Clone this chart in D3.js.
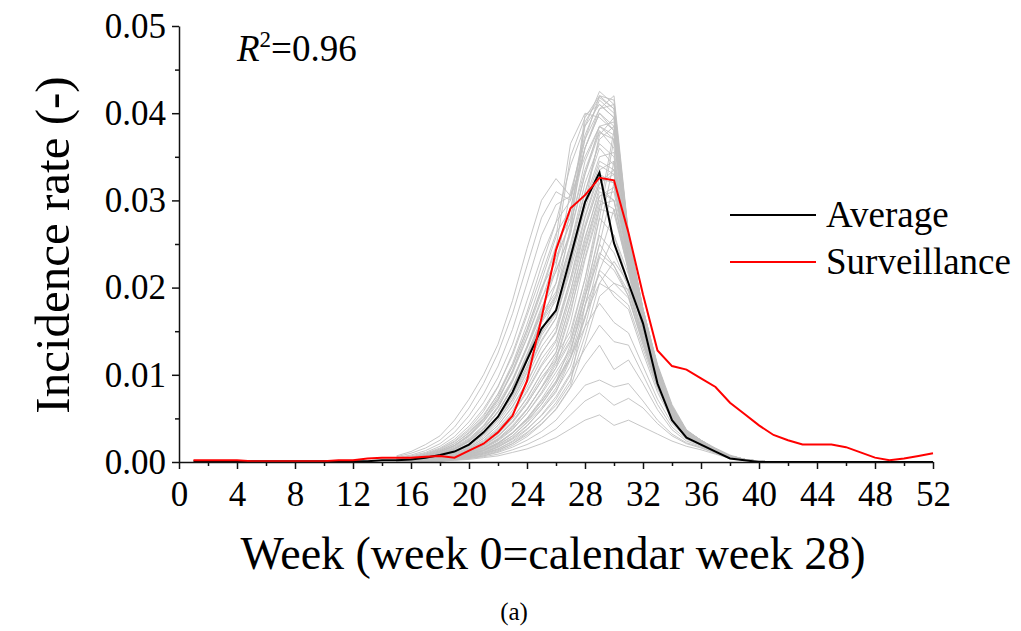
<!DOCTYPE html>
<html>
<head>
<meta charset="utf-8">
<script src="https://cdn.jsdelivr.net/npm/d3@7"></script>
<style>
  body { margin: 0; background: #fff; }
  svg text { font-family: "Liberation Serif", "Times New Roman", serif; fill: #000; }
</style>
</head>
<body>
<div id="chart"></div>
<script>

// weeks 1..52 for the two main curves
var weeks = d3.range(1, 53);

var average = [0.0001, 0.0001, 0.0001, 0.0001, 0.0001, 0.0001, 0.0001, 0.0001, 0.0001, 0.0001,
  0.0001, 0.0001, 0.0001, 0.0002, 0.0002, 0.0003, 0.0005, 0.0008, 0.0012, 0.0020,
  0.0034, 0.0052, 0.0080, 0.0117, 0.0153, 0.0174, 0.0235, 0.0298, 0.0332, 0.0251,
  0.0205, 0.0159, 0.0090, 0.0048, 0.0028, 0.0020, 0.0012, 0.0004, 0.0002, 0.0000,
  0, 0, 0, 0, 0, 0, 0, 0, 0, 0, 0, 0];

var surveillance = [0.0002, 0.0002, 0.0002, 0.0002, 0.0001, 0.0001, 0.0001, 0.0001, 0.0001, 0.0001,
  0.0002, 0.0002, 0.0004, 0.0005, 0.0005, 0.0005, 0.0006, 0.0007, 0.0005, 0.0013,
  0.0021, 0.0034, 0.0053, 0.0093, 0.0165, 0.0243, 0.0291, 0.0306, 0.0326, 0.0323,
  0.0263, 0.0192, 0.0128, 0.0110, 0.0106, 0.0096, 0.0086, 0.0068, 0.0055, 0.0042,
  0.0031, 0.0025, 0.0020, 0.0020, 0.0020, 0.0017, 0.0011, 0.0005, 0.0002, 0.0004,
  0.0007, 0.0010];

// simulation runs (grey), weeks 15..41, incidence in units of 1e-4
var runWeeks = d3.range(15, 42);
var runs = [
  [7,12,20,30,48,72,100,135,185,245,300,325,305,350,385,370,245,170,108,63,35,24,15,7,3,1,0],
  [6,10,16,25,40,62,90,125,170,225,280,310,300,360,400,385,250,172,110,64,36,25,15,7,3,1,0],
  [5,8,13,21,34,53,78,110,152,205,260,295,305,375,415,400,255,175,112,66,37,25,16,8,3,1,0],
  [4,7,11,18,29,46,68,97,135,185,235,275,300,385,425,410,258,176,110,64,36,25,15,7,3,1,0],
  [4,6,10,16,26,41,61,87,122,168,215,262,290,370,420,415,260,174,108,62,35,24,15,7,3,1,0],
  [3,5,9,14,23,36,54,78,110,152,198,248,280,360,405,420,262,175,110,64,36,25,15,7,3,1,0],
  [3,5,8,13,21,33,50,72,102,142,185,235,275,398,410,395,255,170,106,61,34,23,14,7,3,1,0],
  [2,4,7,12,19,30,46,67,95,132,172,220,262,390,418,405,255,172,108,62,35,24,15,7,3,1,0],
  [3,5,9,15,24,38,58,86,125,172,225,275,340,385,410,395,255,172,108,62,35,24,15,7,3,1,0],
  [3,4,8,13,21,34,52,78,113,158,208,258,365,400,395,380,250,170,106,61,34,23,14,7,3,1,0],
  [2,4,7,12,19,31,48,72,105,148,195,245,350,395,420,405,258,174,109,63,36,24,15,7,3,1,0],
  [2,3,6,10,17,27,42,64,94,132,175,225,310,370,405,410,260,175,110,64,36,25,15,7,3,1,0],
  [1,3,5,9,15,24,38,58,85,120,160,205,290,360,400,380,252,170,106,61,34,23,14,7,3,1,0],
  [1,2,4,8,13,21,34,52,77,110,148,190,270,345,385,390,250,168,105,60,34,23,14,7,3,1,0],
  [2,3,5,9,15,25,40,62,92,130,170,195,250,310,360,340,230,160,100,58,33,22,14,7,3,1,0],
  [2,3,5,8,14,23,37,57,85,120,160,185,240,300,350,355,235,162,102,60,34,23,14,7,3,1,0],
  [1,2,4,7,12,20,33,51,77,110,148,172,228,290,340,330,228,158,98,57,32,22,13,6,2,1,0],
  [1,2,4,7,12,19,31,48,72,104,140,165,220,282,335,345,232,160,100,58,33,22,14,7,3,1,0],
  [1,2,4,6,11,18,29,45,68,98,132,155,210,272,325,320,225,155,97,56,32,21,13,6,2,1,0],
  [1,2,3,6,10,16,27,42,64,92,125,148,205,268,320,330,228,157,98,56,32,21,13,6,2,1,0],
  [1,2,3,5,9,15,25,39,59,86,118,140,196,258,310,300,220,152,95,55,31,21,13,6,2,1,0],
  [1,1,3,5,8,14,23,36,55,80,110,132,190,250,305,310,222,153,96,55,31,20,12,6,2,1,0],
  [1,1,2,4,7,12,20,32,50,73,102,125,182,242,300,290,218,150,94,54,30,20,12,6,2,1,0],
  [1,1,2,4,7,11,19,30,47,69,97,118,175,235,295,300,220,150,94,54,30,20,12,6,2,1,0],
  [2,3,5,9,15,24,38,58,86,122,162,190,245,308,370,385,240,165,104,61,34,23,14,7,3,1,0],
  [1,2,4,7,12,20,32,50,75,107,145,170,230,298,375,395,245,168,105,62,35,23,14,7,3,1,0],
  [2,4,7,11,19,31,49,75,110,152,200,230,275,335,380,360,238,163,103,60,34,23,14,7,3,1,0],
  [2,4,6,11,18,29,46,70,104,143,188,218,265,330,385,375,242,165,104,61,34,23,14,7,3,1,0],
  [1,2,4,7,12,20,31,48,71,102,138,165,225,295,345,335,235,160,100,58,33,22,14,7,3,1,0],
  [1,2,3,6,10,17,27,42,63,91,124,150,210,280,330,320,230,158,99,57,32,22,13,6,2,1,0],
  [1,1,3,5,9,15,24,37,56,82,112,138,195,268,320,335,232,159,99,57,32,22,13,6,2,1,0],
  [1,1,2,5,8,13,21,33,50,74,102,126,182,255,315,300,225,155,97,56,32,21,13,6,2,1,0],
  [0,1,2,4,7,11,18,29,45,67,93,116,170,245,305,315,228,156,97,56,31,21,13,6,2,1,0],
  [0,1,2,4,6,10,16,26,40,60,85,108,160,232,290,285,220,152,95,55,31,20,12,6,2,1,0],
  [2,3,5,9,15,24,38,58,86,124,165,192,250,320,365,350,238,163,102,60,34,23,14,7,3,1,0],
  [2,3,6,10,16,26,41,63,93,133,178,205,262,330,378,370,242,165,104,61,34,23,14,7,3,1,0],
  [1,1,2,3,6,10,16,26,40,60,86,115,145,210,290,380,245,168,106,62,35,24,15,7,3,1,0],
  [0,1,2,3,5,9,15,24,37,56,80,108,138,200,280,370,240,165,104,61,34,23,14,7,3,1,0],
  [0,1,1,3,5,8,13,21,33,50,72,98,128,188,265,345,235,162,102,60,34,23,14,7,3,1,0],
  [0,1,1,2,4,7,12,19,30,46,66,90,120,178,250,320,228,158,100,58,33,22,14,7,3,1,0],
  [0,0,1,2,4,6,10,17,27,41,60,82,110,165,235,290,222,155,98,57,32,22,13,6,2,1,0],
  [0,0,1,2,3,6,9,15,24,37,54,75,102,155,220,260,215,150,95,55,31,21,13,6,2,1,0],
  [0,0,1,2,3,5,8,13,21,33,48,68,94,145,205,230,205,145,92,54,30,20,12,6,2,1,0],
  [0,0,1,1,3,4,7,12,19,29,43,61,86,135,190,205,198,140,90,52,30,20,12,6,2,1,0],
  [1,1,2,4,7,12,19,30,46,67,93,122,150,210,280,260,205,145,92,54,30,20,12,6,2,1,0],
  [1,1,2,4,6,11,17,27,42,61,85,112,140,195,260,240,200,142,90,53,30,20,12,6,2,1,0],
  [1,1,2,3,6,10,16,25,38,56,78,103,130,180,240,225,195,140,88,52,29,19,12,6,2,1,0],
  [0,0,1,3,5,9,14,22,34,50,70,93,120,165,220,205,188,135,86,51,29,19,11,5,2,1,0],
  [0,1,1,3,5,8,13,21,33,49,69,92,135,190,235,220,190,138,88,52,30,20,12,6,2,1,0],
  [0,1,1,2,4,7,11,18,28,42,60,80,118,168,205,195,180,130,84,50,29,19,11,5,2,1,0],
  [1,1,2,3,5,8,13,20,30,45,62,85,120,155,182,160,148,110,72,44,28,20,12,6,2,1,0],
  [0,1,1,2,4,7,11,17,26,38,53,72,100,130,157,138,134,100,66,40,26,19,11,5,2,1,0],
  [0,0,1,2,3,6,9,14,21,31,44,60,85,112,134,106,117,90,60,37,24,18,11,5,2,1,0],
  [0,0,1,1,3,5,7,11,17,25,35,48,68,88,94,86,90,70,48,32,22,17,10,5,2,1,0],
  [0,0,1,1,2,4,6,9,14,20,28,38,54,70,79,65,73,62,44,30,21,16,10,5,2,1,0],
  [0,0,0,1,2,3,5,7,11,15,21,28,38,48,54,42,48,40,32,24,18,14,9,4,2,1,0],
  [0,0,1,2,4,6,10,15,23,34,48,65,90,180,215,190,175,125,80,48,30,21,13,6,2,1,0],
  [1,1,2,3,5,9,14,22,33,48,66,90,125,190,250,225,190,135,86,50,31,21,13,6,2,1,0]
];

var xTicks = [0, 4, 8, 12, 16, 20, 24, 28, 32, 36, 40, 44, 48, 52];
var xMinorTicks = [2, 6, 10, 14, 18, 22, 26, 30, 34, 38, 42, 46, 50];
var yTicks = [0, 0.01, 0.02, 0.03, 0.04, 0.05];
var yMinorTicks = [0.005, 0.015, 0.025, 0.035, 0.045];

var seriesNames = ["Average", "Surveillance"];
var seriesColors = ["#000000", "#ff0000"];

var width = 1021, height = 631;
var margin = { top: 26, right: 88, bottom: 169, left: 179 };

var svg = d3.select("#chart")
  .append("svg")
    .attr("width", width)
    .attr("height", height);

var x = d3.scaleLinear()
  .domain([0, 52])
  .range([margin.left, width - margin.right]);

var y = d3.scaleLinear()
  .domain([0, 0.05])
  .range([height - margin.bottom, margin.top]);

// grey runs
var runLine = d3.line()
  .x(function(d, i) { return x(runWeeks[i]); })
  .y(function(d) { return y(d * 1e-4); });

svg.append("g")
  .selectAll("path")
  .data(runs)
  .enter().append("path")
    .attr("d", runLine)
    .attr("fill", "none")
    .attr("stroke", "#c0c0c0")
    .attr("stroke-width", 0.9);

// average and surveillance
var mainLine = d3.line()
  .x(function(d, i) { return x(weeks[i]); })
  .y(function(d) { return y(d); });

svg.append("path")
  .attr("d", mainLine(average))
  .attr("fill", "none")
  .attr("stroke", seriesColors[0])
  .attr("stroke-width", 2);

svg.append("path")
  .attr("d", mainLine(surveillance))
  .attr("fill", "none")
  .attr("stroke", seriesColors[1])
  .attr("stroke-width", 2);

// x axis
var xAxis = svg.append("g")
  .attr("transform", "translate(0," + y(0) + ")")
  .call(d3.axisBottom(x).tickValues(xTicks).tickSize(7).tickSizeOuter(0).tickPadding(12));

svg.append("g")
  .attr("transform", "translate(0," + y(0) + ")")
  .call(d3.axisBottom(x).tickValues(xMinorTicks).tickSize(4).tickSizeOuter(0).tickFormat(""))
  .select(".domain").remove();

xAxis.selectAll("text")
  .style("font-size", "35px");

// y axis
var yAxis = svg.append("g")
  .attr("transform", "translate(" + x(0) + ",0)")
  .call(d3.axisLeft(y).tickValues(yTicks).tickSize(7).tickSizeOuter(0).tickPadding(6)
    .tickFormat(d3.format(".2f")));

svg.append("g")
  .attr("transform", "translate(" + x(0) + ",0)")
  .call(d3.axisLeft(y).tickValues(yMinorTicks).tickSize(4).tickSizeOuter(0).tickFormat(""))
  .select(".domain").remove();

yAxis.selectAll("text")
  .style("font-size", "35px");

svg.selectAll(".domain, .tick line")
  .attr("stroke", "#111")
  .attr("stroke-width", 1.5);
svg.selectAll(".tick text").attr("fill", "#000");

// axis titles
svg.append("text")
  .attr("x", 553)
  .attr("y", 569)
  .style("text-anchor", "middle")
  .style("font-size", "46px")
  .text("Week (week 0=calendar week 28)");

svg.append("text")
  .attr("transform", "translate(69,245) rotate(-90)")
  .style("text-anchor", "middle")
  .style("font-size", "49px")
  .text("Incidence rate (-)");

// R squared note
var r2 = svg.append("text")
  .attr("x", 237)
  .attr("y", 61)
  .style("font-size", "37px");
r2.append("tspan").style("font-style", "italic").text("R");
r2.append("tspan").attr("dy", -14).style("font-size", "23px").text("2");
r2.append("tspan").attr("dy", 14).text("=0.96");

// legend
var legend = svg.append("g")
  .attr("transform", "translate(730,215)");

legend.selectAll("line")
  .data(seriesNames)
  .enter().append("line")
    .attr("x1", 0)
    .attr("x2", 86)
    .attr("y1", function(d, i) { return i * 47; })
    .attr("y2", function(d, i) { return i * 47; })
    .attr("stroke", function(d, i) { return seriesColors[i]; })
    .attr("stroke-width", 2);

legend.selectAll("text")
  .data(seriesNames)
  .enter().append("text")
    .attr("x", 96)
    .attr("y", function(d, i) { return i * 47 + 12; })
    .style("font-size", "37px")
    .text(function(d) { return d; });

// panel label
svg.append("text")
  .attr("x", 514)
  .attr("y", 620)
  .style("text-anchor", "middle")
  .style("font-size", "25px")
  .text("(a)");

</script>
</body>
</html>
